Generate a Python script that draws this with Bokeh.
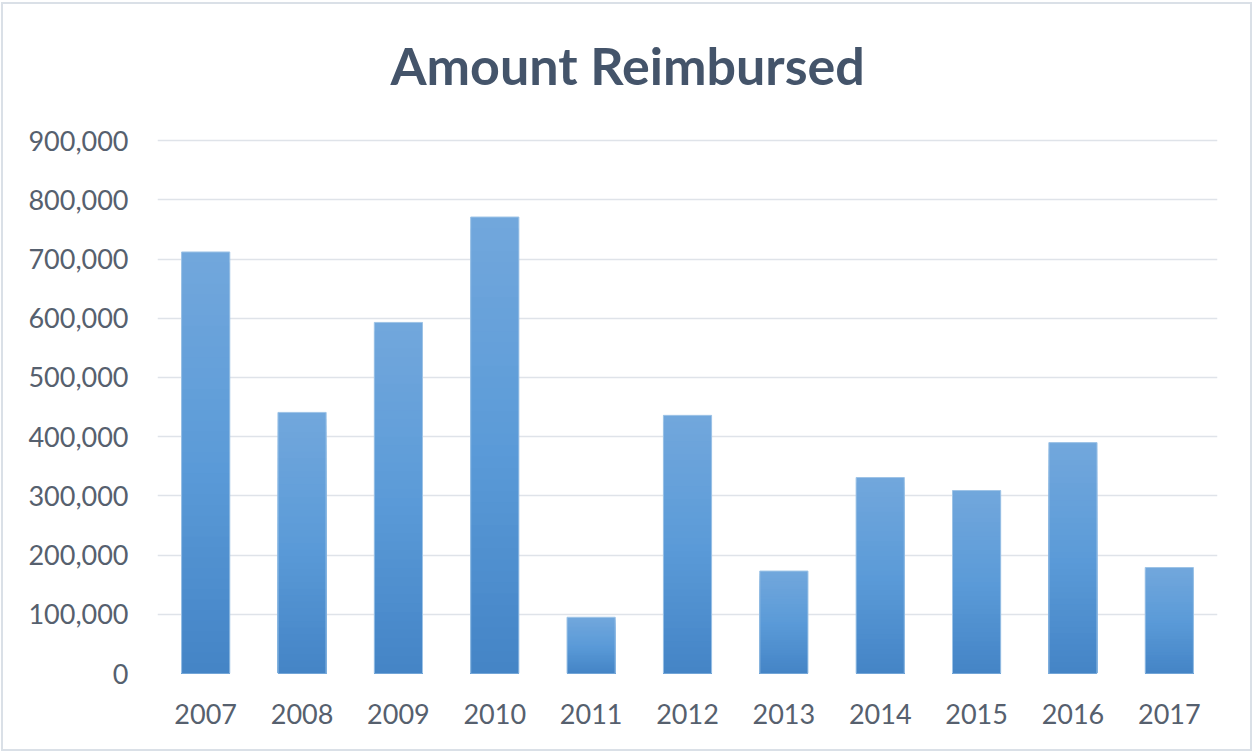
from bokeh.plotting import figure
from bokeh.models import NumeralTickFormatter, FixedTicker, Range1d, Label
from bokeh.embed import file_html
from bokeh.resources import INLINE

years = ["2007", "2008", "2009", "2010", "2011", "2012", "2013", "2014", "2015", "2016", "2017"]
amounts = [712000, 441000, 593000, 771000, 95000, 436000, 173000, 331000, 309000, 390000, 179000]
y_ticks = [0, 100000, 200000, 300000, 400000, 500000, 600000, 700000, 800000, 900000]
title_text = "Amount Reimbursed"

FONT = "Lato"
TEXT_COLOR = "#56606e"

# the frame reaches the top of the canvas so the title can sit inside it;
# gridlines/labels only appear at the fixed ticks (0 .. 900,000)
p = figure(
    x_range=years,
    y_range=Range1d(0, 1130000),
    width=1247, height=745,
    output_backend="svg", toolbar_location=None,
    min_border_left=154, min_border_right=33,
    min_border_top=0, min_border_bottom=76,
)
p.styles = {"margin-left": "3px", "margin-top": "4px",
            "outline": "2px solid #dae0e7"}

title = Label(x=233, y=609, x_units="screen", y_units="screen", text=title_text,
              text_font=FONT, text_font_size="52px", text_font_style="bold",
              text_color="#44546a", text_baseline="alphabetic", text_align="left")
p.add_layout(title)

p.outline_line_color = None
p.background_fill_color = "white"
p.border_fill_color = "white"

# gradient bars: overlapping bars, light at top to dark at bottom
def hex_to_rgb(h):
    h = h.lstrip("#")
    return tuple(int(h[i:i + 2], 16) for i in (0, 2, 4))

top_c = hex_to_rgb("#72a7dc")
mid_c = hex_to_rgb("#5b9bd8")
bot_c = hex_to_rgb("#4484c6")

def color_at(f):  # f=0 bottom, f=1 top
    if f < 0.5:
        t = f / 0.5
        a, b = bot_c, mid_c
    else:
        t = (f - 0.5) / 0.5
        a, b = mid_c, top_c
    return "#%02x%02x%02x" % tuple(int(round(a[i] + (b[i] - a[i]) * t)) for i in range(3))

N = 40
xs, tops, colors = [], [], []
for k in range(N, 0, -1):
    for yr, amt in zip(years, amounts):
        xs.append(yr)
        tops.append(amt * k / N)
        colors.append(color_at((k - 0.5) / N))

p.vbar(x=xs, bottom=0, top=tops, width=0.5, fill_color=colors, line_color=None)
p.vbar(x=years, top=amounts, width=0.5, fill_color=None, line_color="#9dc3e6", line_width=1)

p.yaxis.ticker = FixedTicker(ticks=y_ticks)
p.yaxis.formatter = NumeralTickFormatter(format="0,0")
for ax in (p.xaxis[0], p.yaxis[0]):
    ax.axis_line_color = None
    ax.major_tick_line_color = None
    ax.minor_tick_line_color = None
    ax.major_tick_out = 0
    ax.major_tick_in = 0
    ax.major_label_text_font = FONT
    ax.major_label_text_font_size = "27px"
    ax.major_label_text_color = TEXT_COLOR
p.yaxis.major_label_standoff = 29
p.xaxis.major_label_standoff = 30

p.xgrid.grid_line_color = None
p.ygrid.grid_line_color = "#dfe3e9"
p.ygrid.grid_line_width = 1.5

open("out.html", "w").write(file_html(p, INLINE))
